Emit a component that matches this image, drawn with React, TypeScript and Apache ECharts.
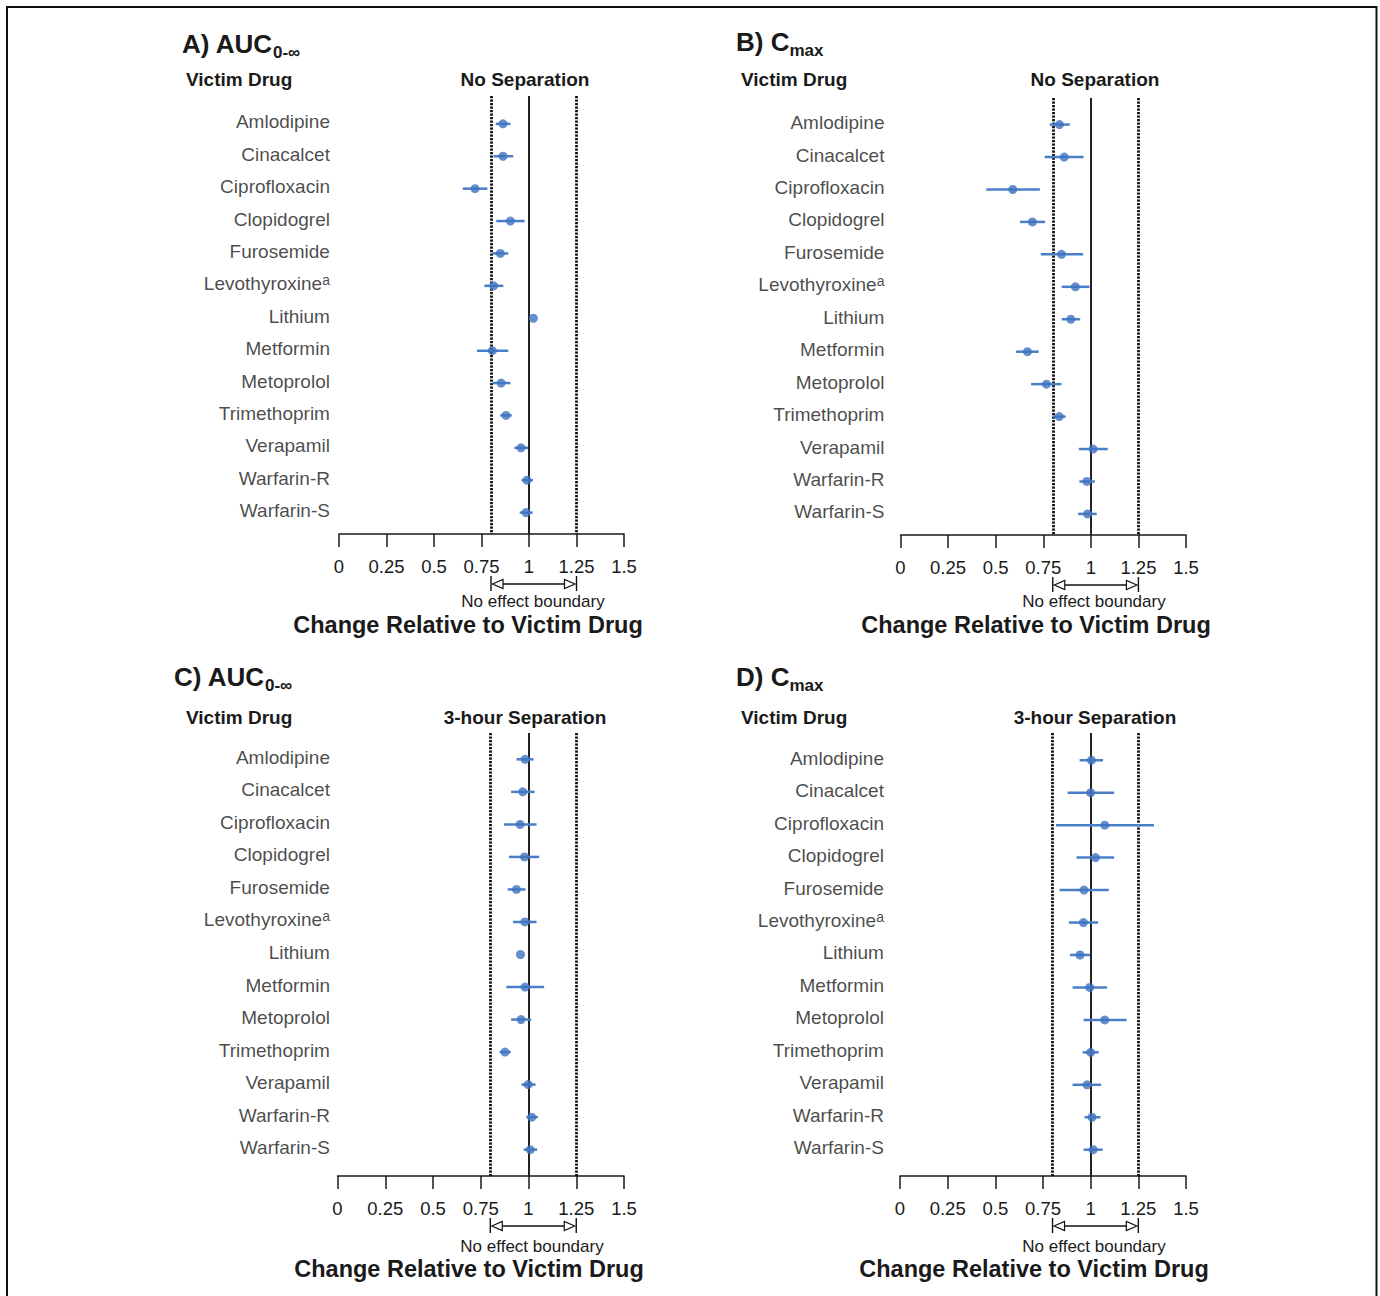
import React, { useEffect, useRef } from "react";
import * as echarts from "echarts";

const FONT = '"Liberation Sans", Arial, Helvetica, sans-serif';

// ---- data ----
const drugs = [
  "Amlodipine", "Cinacalcet", "Ciprofloxacin", "Clopidogrel", "Furosemide",
  "Levothyroxine", "Lithium", "Metformin", "Metoprolol", "Trimethoprim",
  "Verapamil", "Warfarin-R", "Warfarin-S",
];
const drugSup = ["", "", "", "", "", "a", "", "", "", "", "", "", ""];

const xMin = 0;
const xMax = 1.5;
const xInterval = 0.25;
const noEffectBounds = [0.8, 1.25];
const refValue = 1;

// A) AUC, no separation
const aucNoSepEst = [0.863, 0.863, 0.716, 0.902, 0.849, 0.814, 1.023, 0.807, 0.853, 0.879, 0.958, 0.989, 0.984];
const aucNoSepLo = [0.825, 0.814, 0.651, 0.828, 0.807, 0.765, 1.023, 0.726, 0.807, 0.849, 0.923, 0.961, 0.951];
const aucNoSepHi = [0.902, 0.917, 0.781, 0.977, 0.891, 0.865, 1.023, 0.891, 0.902, 0.909, 0.995, 1.021, 1.019];

// B) Cmax, no separation
const cmaxNoSepEst = [0.835, 0.86, 0.59, 0.693, 0.846, 0.919, 0.895, 0.667, 0.767, 0.834, 1.012, 0.979, 0.983];
const cmaxNoSepLo = [0.784, 0.758, 0.451, 0.628, 0.737, 0.847, 0.847, 0.607, 0.686, 0.802, 0.937, 0.94, 0.933];
const cmaxNoSepHi = [0.889, 0.962, 0.732, 0.76, 0.96, 0.993, 0.944, 0.726, 0.846, 0.868, 1.089, 1.021, 1.031];

// C) AUC, 3-hour separation
const auc3hEst = [0.982, 0.97, 0.956, 0.979, 0.937, 0.981, 0.958, 0.982, 0.961, 0.877, 0.998, 1.017, 1.009];
const auc3hLo = [0.937, 0.909, 0.872, 0.898, 0.891, 0.919, 0.958, 0.884, 0.909, 0.849, 0.963, 0.989, 0.975];
const auc3hHi = [1.026, 1.032, 1.042, 1.056, 0.984, 1.042, 0.958, 1.082, 1.014, 0.907, 1.037, 1.049, 1.045];

// D) Cmax, 3-hour separation
const cmax3hEst = [1.004, 1.0, 1.074, 1.025, 0.965, 0.962, 0.944, 0.995, 1.074, 1.0, 0.981, 1.007, 1.013];
const cmax3hLo = [0.942, 0.879, 0.818, 0.926, 0.837, 0.886, 0.891, 0.905, 0.963, 0.958, 0.905, 0.968, 0.963];
const cmax3hHi = [1.065, 1.123, 1.332, 1.123, 1.095, 1.039, 0.997, 1.086, 1.188, 1.042, 1.055, 1.051, 1.063];

const panelLetters = ["A)", "B)", "C)", "D)"];
const panelMetric = ["AUC", "C", "AUC", "C"];
const panelMetricSub = ["0-∞", "max", "0-∞", "max"];
const panelHeaders = ["No Separation", "No Separation", "3-hour Separation", "3-hour Separation"];
const colHeader = "Victim Drug";
const axisTitle = "Change Relative to Victim Drug";
const boundaryLabel = "No effect boundary";

const panelData = [
  { est: aucNoSepEst, lo: aucNoSepLo, hi: aucNoSepHi },
  { est: cmaxNoSepEst, lo: cmaxNoSepLo, hi: cmaxNoSepHi },
  { est: auc3hEst, lo: auc3hLo, hi: auc3hHi },
  { est: cmax3hEst, lo: cmax3hLo, hi: cmax3hHi },
];

// ---- layout ----
const layout = [
  { left: 339, top: 96, width: 285, height: 438, yMin: -0.86, yMax: 12.66, labDist: 9,
    titleX: 182, titleY: 44, vdX: 186, vdY: 79, hdX: 525, hdY: 79, atX: 468, atY: 625, nbX: 533, nbY: 601 },
  { left: 900.5, top: 98, width: 285.5, height: 437, yMin: -0.82, yMax: 12.65, labDist: 16,
    titleX: 736, titleY: 42, vdX: 741, vdY: 79, hdX: 1095, hdY: 79, atX: 1036, atY: 625, nbX: 1094, nbY: 601 },
  { left: 337.5, top: 733, width: 286.5, height: 443, yMin: -0.81, yMax: 12.81, labDist: 7.5,
    titleX: 174, titleY: 677, vdX: 186, vdY: 717, hdX: 525, hdY: 717, atX: 469, atY: 1269, nbX: 532, nbY: 1246 },
  { left: 900, top: 733, width: 286, height: 443, yMin: -0.84, yMax: 12.81, labDist: 16,
    titleX: 736, titleY: 677, vdX: 741, vdY: 717, hdX: 1095, hdY: 717, atX: 1034, atY: 1269, nbX: 1094, nbY: 1246 },
];

const POINT = "#3e73bf";
const BAR = "#4a7ec7";
const INK = "#1a1a1a";

function buildOption() {
  const grid: any[] = [];
  const xAxis: any[] = [];
  const yAxis: any[] = [];
  const series: any[] = [];
  const graphic: any[] = [
    {
      type: "rect",
      shape: { x: 7, y: 7, width: 1369.5, height: 1320 },
      style: { fill: "none", stroke: "#111", lineWidth: 2 },
      silent: true,
    },
  ];

  layout.forEach((L, pi) => {
    const d = panelData[pi];
    grid.push({ left: L.left, top: L.top, width: L.width, height: L.height, containLabel: false });
    xAxis.push({
      gridIndex: pi,
      type: "value",
      min: xMin,
      max: xMax,
      interval: xInterval,
      position: "bottom",
      splitLine: { show: false },
      axisLine: { show: true, onZero: false, lineStyle: { color: INK, width: 1.5 } },
      axisTick: { show: true, length: 13, lineStyle: { color: INK, width: 1.5 } },
      axisLabel: { fontSize: 18.5, color: INK, margin: 22.5, fontFamily: FONT },
    });
    yAxis.push({
      gridIndex: pi,
      type: "value",
      inverse: true,
      min: L.yMin,
      max: L.yMax,
      show: false,
      splitLine: { show: false },
    });

    // error bars
    series.push({
      type: "custom",
      xAxisIndex: pi,
      yAxisIndex: pi,
      encode: { x: [0, 1], y: 2 },
      data: drugs.map((_, i) => [d.lo[i], d.hi[i], i]),
      renderItem: (params: any, api: any) => {
        const p1 = api.coord([api.value(0), api.value(2)]);
        const p2 = api.coord([api.value(1), api.value(2)]);
        return {
          type: "line",
          shape: { x1: p1[0], y1: p1[1], x2: p2[0], y2: p2[1] },
          style: { stroke: BAR, lineWidth: 2.5 },
        };
      },
      silent: true,
      z: 3,
    });

    // reference lines + points
    series.push({
      type: "scatter",
      xAxisIndex: pi,
      yAxisIndex: pi,
      symbol: "circle",
      symbolSize: 9,
      itemStyle: { color: POINT },
      data: drugs.map((_, i) => [d.est[i], i]),
      z: 4,
      markLine: {
        silent: true,
        symbol: "none",
        label: { show: false },
        data: [
          { xAxis: noEffectBounds[0], lineStyle: { color: "#111", width: 2.8, type: [2.2, 1.3] } },
          { xAxis: refValue, lineStyle: { color: "#222", width: 2, type: "solid" } },
          { xAxis: noEffectBounds[1], lineStyle: { color: "#111", width: 2.8, type: [2.2, 1.3] } },
        ],
        z: 2,
      },
    });

    // drug labels
    series.push({
      type: "scatter",
      xAxisIndex: pi,
      yAxisIndex: pi,
      symbolSize: 0.1,
      itemStyle: { color: "rgba(0,0,0,0)" },
      silent: true,
      data: drugs.map((_, i) => [xMin, i]),
      label: {
        show: true,
        position: "left",
        distance: L.labDist,
        offset: [0, -2],
        fontSize: 19,
        color: INK,
        fontFamily: FONT,
        formatter: (p: any) =>
          drugSup[p.dataIndex] ? drugs[p.dataIndex] + "{sup|" + drugSup[p.dataIndex] + "}" : drugs[p.dataIndex],
        rich: {
          sup: { fontSize: 14, color: INK, fontFamily: FONT, verticalAlign: "top", padding: [0, 0, 8, 0] },
        },
      },
    });

    // no-effect boundary bracket
    series.push({
      type: "custom",
      xAxisIndex: pi,
      yAxisIndex: pi,
      clip: false,
      silent: true,
      encode: { x: [0, 1] },
      data: [[noEffectBounds[0], noEffectBounds[1]]],
      renderItem: (params: any, api: any) => {
        const cs = params.coordSys;
        const y = cs.y + cs.height + 50;
        const x1 = api.coord([api.value(0), 0])[0];
        const x2 = api.coord([api.value(1), 0])[0];
        const st = { stroke: "#111", lineWidth: 1.4 };
        return {
          type: "group",
          children: [
            { type: "line", shape: { x1, y1: y - 8, x2: x1, y2: y + 7 }, style: st },
            { type: "line", shape: { x1: x2, y1: y - 8, x2, y2: y + 7 }, style: st },
            { type: "line", shape: { x1: x1 + 12, y1: y, x2: x2 - 12, y2: y }, style: st },
            {
              type: "polygon",
              shape: { points: [[x1 + 1.5, y], [x1 + 12, y - 4.5], [x1 + 12, y + 4.5]] },
              style: { fill: "#fff", stroke: "#111", lineWidth: 1.2 },
            },
            {
              type: "polygon",
              shape: { points: [[x2 - 1.5, y], [x2 - 12, y - 4.5], [x2 - 12, y + 4.5]] },
              style: { fill: "#fff", stroke: "#111", lineWidth: 1.2 },
            },
          ],
        };
      },
    });

    // texts
    graphic.push({
      type: "text",
      x: L.titleX,
      y: L.titleY,
      silent: true,
      style: {
        text: panelLetters[pi] + " " + panelMetric[pi] + "{sub|" + panelMetricSub[pi] + "}",
        font: "bold 26px " + FONT,
        fill: INK,
        align: "left",
        verticalAlign: "middle",
        textAlign: "left",
        textVerticalAlign: "middle",
        lineHeight: 34,
        rich: {
          sub: { fontSize: 17, fontWeight: "bold", fontFamily: FONT, fill: INK, color: INK, verticalAlign: "bottom", lineHeight: 16 },
        },
      },
    });
    graphic.push({
      type: "text",
      x: L.vdX,
      y: L.vdY,
      silent: true,
      style: {
        text: colHeader, font: "bold 19px " + FONT, fill: INK,
        align: "left", verticalAlign: "middle", textAlign: "left", textVerticalAlign: "middle",
      },
    });
    graphic.push({
      type: "text",
      x: L.hdX,
      y: L.hdY,
      silent: true,
      style: {
        text: panelHeaders[pi], font: "bold 19px " + FONT, fill: INK,
        align: "center", verticalAlign: "middle", textAlign: "center", textVerticalAlign: "middle",
      },
    });
    graphic.push({
      type: "text",
      x: L.nbX,
      y: L.nbY,
      silent: true,
      style: {
        text: boundaryLabel, font: "17px " + FONT, fill: INK,
        align: "center", verticalAlign: "middle", textAlign: "center", textVerticalAlign: "middle",
      },
    });
    graphic.push({
      type: "text",
      x: L.atX,
      y: L.atY,
      silent: true,
      style: {
        text: axisTitle, font: "bold 23.5px " + FONT, fill: INK,
        align: "center", verticalAlign: "middle", textAlign: "center", textVerticalAlign: "middle",
      },
    });
  });

  return {
    animation: false,
    backgroundColor: "#ffffff",
    textStyle: { fontFamily: FONT },
    grid,
    xAxis,
    yAxis,
    series,
    graphic,
  };
}

export default function App() {
  const ref = useRef<HTMLDivElement>(null);
  useEffect(() => {
    document.body.style.margin = "0";
    if (!ref.current) return;
    const chart = echarts.init(ref.current, undefined, { renderer: "svg" });
    chart.setOption(buildOption() as any);
    return () => chart.dispose();
  }, []);
  return <div ref={ref} style={{ width: 1380, height: 1296, background: "#fff" }} />;
}
